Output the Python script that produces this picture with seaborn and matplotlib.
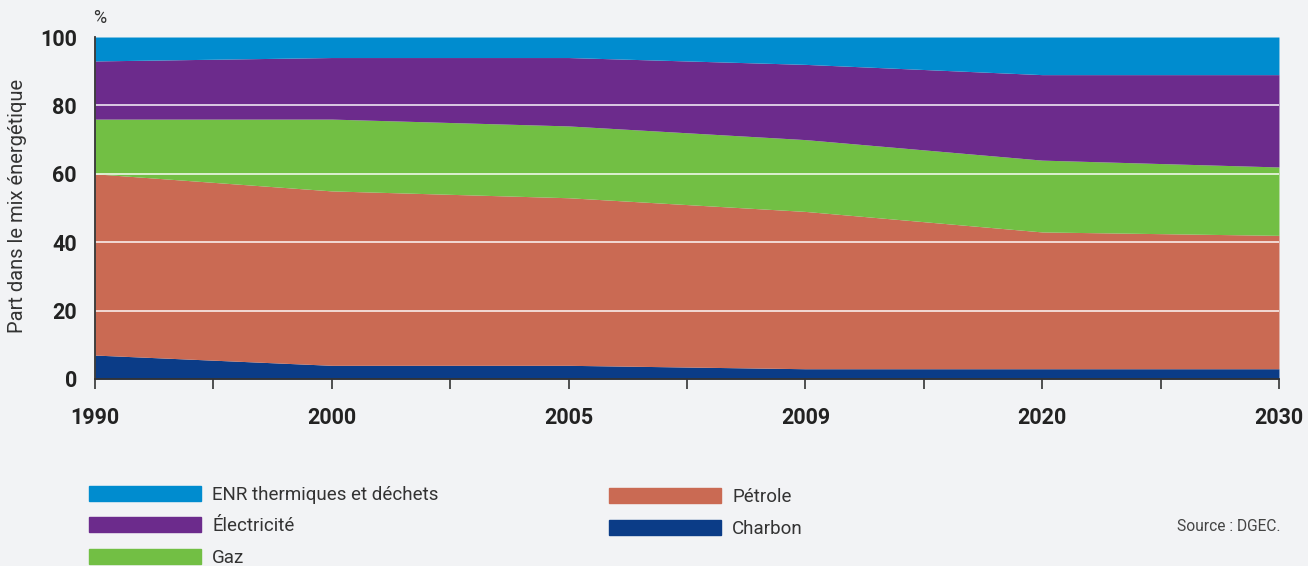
import numpy as np
import pandas as pd
import seaborn as sns
import matplotlib.pyplot as plt
from matplotlib.patches import Patch

# data (% of energy mix)
annees = ['1990', '2000', '2005', '2009', '2020', '2030']
charbon = [7, 4, 4, 3, 3, 3]
petrole = [53, 51, 49, 46, 40, 39]
gaz = [16, 21, 21, 21, 21, 20]
electricite = [17, 18, 20, 22, 25, 27]
enr = [7, 6, 6, 8, 11, 11]

noms = ['Charbon', 'Pétrole', 'Gaz', 'Électricité', 'ENR thermiques et déchets']
couleurs = ['#0b3c87', '#ca6a53', '#72bf44', '#6c2b8c', '#008ccf']

df = pd.DataFrame({'Charbon': charbon, 'Pétrole': petrole, 'Gaz': gaz,
                   'Électricité': electricite,
                   'ENR thermiques et déchets': enr}, index=annees)

bg = '#f2f3f5'
sns.set_theme(style='white')
plt.rcParams['font.family'] = ['Roboto', 'DejaVu Sans']
plt.rcParams['figure.facecolor'] = bg
plt.rcParams['axes.facecolor'] = bg

fig = plt.figure(figsize=(13.08, 5.66), dpi=100)
ax = fig.add_axes([0.0726, 0.3304, 0.9052, 0.6042])

x = np.arange(len(annees))
ax.stackplot(x, [df[n] for n in noms], colors=couleurs, linewidth=0, zorder=1)

ax.set_xlim(0, len(annees) - 1)
ax.set_ylim(0, 100)

# grid on top of the areas
for v in [20, 40, 60, 80]:
    ax.axhline(v, color='white', lw=1.4, alpha=0.75, zorder=3)

ax.set_xticks(x)
ax.set_xticklabels(annees, fontsize=15.5, fontweight='bold', color='#222222')
ax.set_xticks(x[:-1] + 0.5, minor=True)
ax.tick_params(axis='x', which='both', direction='out', length=7.5, width=1.2,
               color='#333333', bottom=True, pad=13)
ax.set_yticks([0, 20, 40, 60, 80, 100])
ax.set_yticklabels(['0', '20', '40', '60', '80', '100'], fontsize=15.5,
                   fontweight='bold', color='#222222')
ax.tick_params(axis='y', length=0, pad=13)

sns.despine(ax=ax, top=True, right=True)
for s in ['left', 'bottom']:
    ax.spines[s].set_color('#333333')
    ax.spines[s].set_linewidth(1.3)
    ax.spines[s].set_zorder(4)

ax.set_ylabel('Part dans le mix énergétique', fontsize=14.5, color='#333333')
ax.yaxis.set_label_coords(-0.057, 0.505)
fig.text(0.0715, 0.953, '%', fontsize=13, color='#333333', ha='left', va='bottom')

# legend in two blocks like the reference
h1 = [Patch(color=couleurs[4]), Patch(color=couleurs[3]), Patch(color=couleurs[2])]
l1 = [noms[4], noms[3], noms[2]]
h2 = [Patch(color=couleurs[1]), Patch(color=couleurs[0])]
l2 = [noms[1], noms[0]]
kw = dict(frameon=False, fontsize=13.5, handlelength=5.95, handleheight=0.85,
          handletextpad=0.62, labelspacing=0.72, borderpad=0, borderaxespad=0,
          labelcolor='#333333')
fig.legend(h1, l1, loc='upper left', bbox_to_anchor=(0.068, 0.142), **kw)
fig.legend(h2, l2, loc='upper left', bbox_to_anchor=(0.4656, 0.137), **kw)

fig.text(0.979, 0.069, 'Source : DGEC.', fontsize=11.2, color='#444444',
         ha='right', va='center')

fig.savefig('out.png', dpi=100, facecolor=bg)
